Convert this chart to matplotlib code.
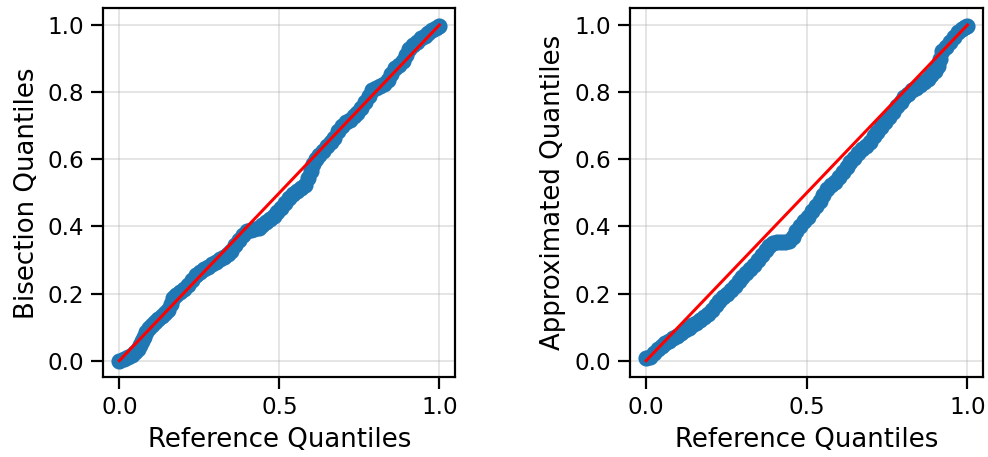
import matplotlib
matplotlib.use("Agg")
import matplotlib.pyplot as plt
import numpy as np

# reference quantiles vs. sorted sample quantiles, bisection sampler
bisect_ref = [0.0, 0.014, 0.027, 0.04, 0.05, 0.058, 0.064, 0.07, 0.076, 0.084,
              0.092, 0.102, 0.112, 0.122, 0.132, 0.142, 0.152, 0.16, 0.168, 0.178,
              0.19, 0.202, 0.215, 0.228, 0.24, 0.252, 0.264, 0.277, 0.29, 0.302,
              0.314, 0.326, 0.338, 0.35, 0.362, 0.374, 0.386, 0.398, 0.41, 0.422,
              0.435, 0.446, 0.458, 0.47, 0.482, 0.494, 0.506, 0.518, 0.53, 0.542,
              0.555, 0.568, 0.58, 0.59, 0.598, 0.606, 0.614, 0.624, 0.636, 0.648,
              0.66, 0.672, 0.684, 0.696, 0.708, 0.72, 0.732, 0.744, 0.756, 0.768,
              0.78, 0.79, 0.802, 0.814, 0.826, 0.838, 0.85, 0.862, 0.874, 0.886,
              0.896, 0.906, 0.918, 0.93, 0.942, 0.954, 0.966, 0.978, 0.99, 1.0]
bisect_q = [0.0, 0.005, 0.012, 0.018, 0.025, 0.036, 0.047, 0.06, 0.072, 0.086,
            0.097, 0.107, 0.115, 0.123, 0.132, 0.141, 0.151, 0.168, 0.186, 0.196,
            0.205, 0.214, 0.225, 0.24, 0.255, 0.265, 0.274, 0.28, 0.287, 0.293,
            0.302, 0.31, 0.318, 0.328, 0.345, 0.36, 0.375, 0.386, 0.39, 0.392,
            0.395, 0.405, 0.414, 0.422, 0.432, 0.444, 0.456, 0.47, 0.484, 0.496,
            0.507, 0.515, 0.523, 0.545, 0.565, 0.585, 0.6, 0.614, 0.626, 0.64,
            0.652, 0.664, 0.685, 0.7, 0.71, 0.718, 0.728, 0.738, 0.752, 0.77,
            0.788, 0.805, 0.812, 0.818, 0.823, 0.835, 0.855, 0.872, 0.882, 0.893,
            0.912, 0.928, 0.94, 0.95, 0.96, 0.968, 0.977, 0.985, 0.992, 0.997]

# same for the approximated sampler
approx_ref = [0.0, 0.012, 0.024, 0.036, 0.048, 0.06, 0.072, 0.084, 0.096, 0.108,
              0.12, 0.132, 0.144, 0.156, 0.168, 0.18, 0.192, 0.204, 0.216, 0.228,
              0.24, 0.252, 0.264, 0.276, 0.288, 0.3, 0.312, 0.324, 0.336, 0.348,
              0.36, 0.372, 0.384, 0.396, 0.408, 0.42, 0.432, 0.444, 0.456, 0.468,
              0.48, 0.492, 0.504, 0.516, 0.528, 0.54, 0.552, 0.564, 0.576, 0.588,
              0.6, 0.612, 0.624, 0.636, 0.648, 0.66, 0.672, 0.684, 0.696, 0.708,
              0.72, 0.732, 0.744, 0.756, 0.768, 0.78, 0.792, 0.804, 0.816, 0.828,
              0.84, 0.852, 0.864, 0.876, 0.888, 0.9, 0.91, 0.916, 0.922, 0.934,
              0.946, 0.958, 0.97, 0.982, 0.994, 1.0]
approx_q = [0.007, 0.012, 0.022, 0.035, 0.044, 0.052, 0.06, 0.068, 0.075, 0.083,
            0.09, 0.097, 0.105, 0.112, 0.12, 0.13, 0.14, 0.152, 0.165, 0.178,
            0.19, 0.2, 0.21, 0.222, 0.236, 0.25, 0.262, 0.272, 0.285, 0.3,
            0.315, 0.33, 0.342, 0.35, 0.353, 0.354, 0.355, 0.358, 0.368, 0.385,
            0.402, 0.415, 0.428, 0.445, 0.462, 0.477, 0.495, 0.51, 0.522, 0.532,
            0.547, 0.562, 0.578, 0.592, 0.605, 0.618, 0.63, 0.64, 0.652, 0.668,
            0.68, 0.695, 0.71, 0.725, 0.742, 0.758, 0.772, 0.785, 0.795, 0.805,
            0.812, 0.822, 0.83, 0.84, 0.85, 0.862, 0.878, 0.9, 0.922, 0.935,
            0.95, 0.965, 0.978, 0.988, 0.995, 0.998]

x_ticks = [0.0, 0.5, 1.0]
y_ticks = [0.0, 0.2, 0.4, 0.6, 0.8, 1.0]


def qq_panel(ax, ref, q, ylabel):
    ref = np.asarray(ref)
    ax.grid(True, alpha=0.4)
    ax.scatter(ref, q, s=50, color='C0', zorder=2)
    ends = ref[[0, -1]]
    ax.plot(ends, ends, 'r-', lw=1.5, zorder=3)  # identity line
    ax.set_xticks(x_ticks)
    ax.set_yticks(y_ticks)
    ax.tick_params(labelsize=11.5, length=6, width=1.1)
    for s in ax.spines.values():
        s.set_linewidth(1.1)
    ax.set_xlabel('Reference Quantiles', fontsize=13)
    ax.set_ylabel(ylabel, fontsize=13)


fig = plt.figure(figsize=(988 / 144, 457 / 144), dpi=144)
ax1 = fig.add_axes([0.1046, 0.174, 0.3563, 0.808])
ax2 = fig.add_axes([0.6377, 0.174, 0.3577, 0.808])

qq_panel(ax1, bisect_ref, bisect_q, 'Bisection Quantiles')
qq_panel(ax2, approx_ref, approx_q, 'Approximated Quantiles')

fig.savefig('out.png', dpi=144)
